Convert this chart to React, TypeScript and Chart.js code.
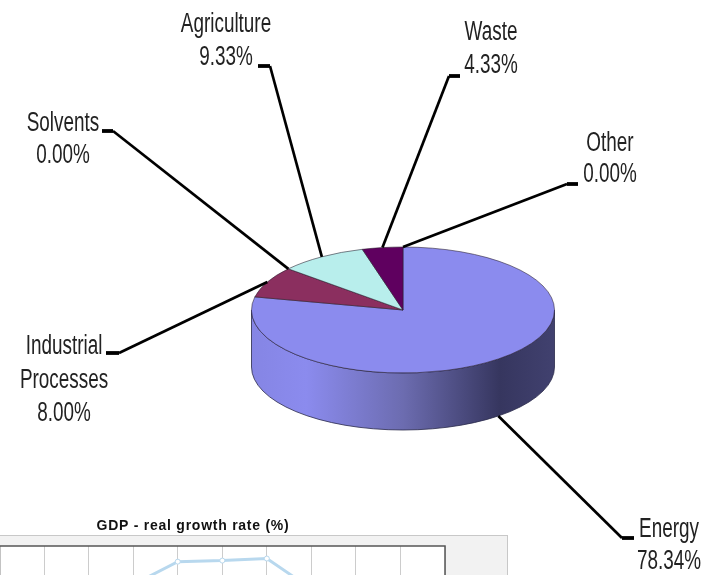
import React, { useEffect, useRef } from "react";
import { Chart, registerables } from "chart.js";

Chart.register(...registerables);

// ---------- Pie data ----------
const categories = ["Energy", "Industrial Processes", "Solvents", "Agriculture", "Waste", "Other"];
const shares = [78.34, 8.0, 0.0, 9.33, 4.33, 0.0];
const sliceColors = ["#8B8BEE", "#8B2F5F", "#8B2F5F", "#B8EEEC", "#5F005F", "#FFFFCC"];
const labelLines = [["Energy"], ["Industrial", "Processes"], ["Solvents"], ["Agriculture"], ["Waste"], ["Other"]];

// ---------- GDP data (only the peak of this chart is inside the picture) ----------
const gdpYears = ["2000", "2001", "2002", "2003", "2004", "2005", "2006", "2007", "2008", "2009", "2010"];
const gdpGrowth = [3.2, 2.6, 3.8, 4.64, 6.64, 6.73, 6.91, 4.27, 3.6, 2.4, 3.1];

// ---------- Layout ----------
const PIE = { cx: 403, cy: 310, rx: 151.5, ry: 63, depth: 57 };
const LABEL = { font: 27, scaleX: 0.7, color: "#222222" };
// label centre x, first-line centre y, line gap, tick start x, tick y, elbow x
const labelLayout = [
  { x: 669, y: 530, gap: 32, tickX: 634, tickY: 538, elbowX: 622 },
  { x: 64, y: 347, gap: 33.5, tickX: 106, tickY: 353, elbowX: 119 },
  { x: 63, y: 124, gap: 32, tickX: 102, tickY: 131, elbowX: 113 },
  { x: 226, y: 25, gap: 33, tickX: 258, tickY: 66, elbowX: 270 },
  { x: 491, y: 33, gap: 33, tickX: 460, tickY: 76, elbowX: 449 },
  { x: 610, y: 144, gap: 31, tickX: 578, tickY: 184, elbowX: 567 },
];

const pie3d = {
  id: "pie3d",
  beforeDatasetsDraw(chart: any) {
    const { ctx } = chart;
    const { cx, cy, rx, ry, depth } = PIE;
    const g = ctx.createLinearGradient(cx - rx, 0, cx + rx, 0);
    g.addColorStop(0, "#8585E4");
    g.addColorStop(0.18, "#8B8BEE");
    g.addColorStop(0.5, "#6C6CB0");
    g.addColorStop(0.82, "#36365F");
    g.addColorStop(1, "#41416F");
    ctx.save();
    ctx.beginPath();
    ctx.ellipse(cx, cy, rx, ry, 0, 0, Math.PI);
    ctx.lineTo(cx - rx, cy + depth);
    ctx.ellipse(cx, cy + depth, rx, ry, 0, Math.PI, 0, true);
    ctx.closePath();
    ctx.fillStyle = g;
    ctx.fill();
    ctx.strokeStyle = "#2A2A4A";
    ctx.lineWidth = 0.8;
    ctx.stroke();
    ctx.restore();

    const el = chart.getDatasetMeta(0).data[0];
    ctx.save();
    ctx.translate(cx, cy);
    ctx.scale(rx / el.outerRadius, ry / el.outerRadius);
    ctx.translate(-el.x, -el.y);
  },
  afterDatasetsDraw(chart: any) {
    const { ctx } = chart;
    ctx.restore();
    const { cx, cy, rx, ry, depth } = PIE;
    chart.getDatasetMeta(0).data.forEach((arc: any, i: number) => {
      const a = (arc.startAngle + arc.endAngle) / 2;
      const sin = Math.sin(a);
      const ax = cx + rx * Math.cos(a);
      const ay = cy + ry * sin + (sin > 0.2 ? depth : 0);
      const l = labelLayout[i];
      ctx.save();
      ctx.strokeStyle = "#000";
      ctx.lineJoin = "round";
      ctx.lineWidth = 2.7;
      ctx.beginPath();
      ctx.moveTo(l.elbowX, l.tickY);
      ctx.lineTo(ax, ay);
      ctx.stroke();
      ctx.lineWidth = 3.8;
      ctx.beginPath();
      ctx.moveTo(l.tickX, l.tickY);
      ctx.lineTo(l.elbowX, l.tickY);
      ctx.stroke();
      ctx.restore();

      const lines = [...labelLines[i], shares[i].toFixed(2) + "%"];
      lines.forEach((t, k) => {
        ctx.save();
        ctx.translate(l.x, l.y + k * l.gap);
        ctx.scale(LABEL.scaleX, 1);
        ctx.font = `${LABEL.font}px "Liberation Sans", Arial, sans-serif`;
        ctx.fillStyle = LABEL.color;
        ctx.textAlign = "center";
        ctx.textBaseline = "middle";
        ctx.fillText(t, 0, 0);
        ctx.restore();
      });
    });
  },
};

const PANEL_TOP = 19;
const gdpFrame = {
  id: "gdpFrame",
  beforeDraw(chart: any) {
    const { ctx, width, height, chartArea: a } = chart;
    ctx.save();
    ctx.fillStyle = "#F2F2F2";
    ctx.fillRect(0, PANEL_TOP, width, height - PANEL_TOP);
    ctx.strokeStyle = "#C8C8C8";
    ctx.lineWidth = 1;
    ctx.strokeRect(0.5, PANEL_TOP + 0.5, width - 1, height);
    ctx.fillStyle = "#FFFFFF";
    ctx.fillRect(a.left, a.top, a.width, a.height);
    ctx.restore();
    (ctx as any).letterSpacing = "0.75px";
  },
  afterDraw(chart: any) {
    const { ctx, chartArea: a } = chart;
    ctx.save();
    ctx.strokeStyle = "#555555";
    ctx.lineWidth = 1.5;
    ctx.strokeRect(a.left, a.top, a.width, a.height);
    ctx.restore();
  },
};

export default function App() {
  const pieRef = useRef<HTMLCanvasElement>(null);
  const gdpRef = useRef<HTMLCanvasElement>(null);

  useEffect(() => {
    document.body.style.margin = "0";
    const pie = new Chart(pieRef.current!, {
      type: "pie",
      data: {
        labels: categories,
        datasets: [
          {
            data: shares,
            backgroundColor: sliceColors,
            borderColor: "#2A2030",
            borderWidth: 0.8,
          },
        ],
      },
      options: {
        animation: false,
        responsive: false,
        layout: { padding: { left: 251, right: 155, top: 0, bottom: 272 } },
        plugins: { legend: { display: false }, tooltip: { enabled: false } },
      },
      plugins: [pie3d],
    } as any);

    const gdp = new Chart(gdpRef.current!, {
      type: "line",
      data: {
        labels: gdpYears,
        datasets: [
          {
            data: gdpGrowth,
            borderColor: "#B8D8EE",
            borderWidth: 3,
            tension: 0,
            pointRadius: 2.5,
            pointBorderWidth: 1,
            pointBackgroundColor: "#FFFFFF",
            pointBorderColor: "#B8D8EE",
          },
        ],
      },
      options: {
        animation: false,
        responsive: false,
        layout: { padding: { left: 0, right: 63, top: 0, bottom: 10 } },
        plugins: {
          legend: { display: false },
          tooltip: { enabled: false },
          title: {
            display: true,
            text: "GDP - real growth rate (%)",
            color: "#111111",
            font: { family: '"Liberation Sans", Arial, sans-serif', size: 14, weight: "bold" },
            padding: { top: 2, bottom: 11.2 },
          },
        },
        scales: {
          x: {
            offset: false,
            grid: { color: "#CCCCCC", lineWidth: 1 },
            border: { display: false },
            ticks: { display: false },
          },
          y: {
            min: 0,
            max: 8,
            grid: { display: false },
            border: { display: false },
            ticks: { display: false },
            afterFit(scale: any) {
              scale.width = 58.6;
            },
          },
        },
      },
      plugins: [gdpFrame],
    } as any);

    return () => {
      pie.destroy();
      gdp.destroy();
    };
  }, []);

  return (
    <div style={{ position: "relative", width: 710, height: 575, overflow: "hidden", background: "#fff" }}>
      <canvas
        ref={pieRef}
        width={710}
        height={575}
        style={{ position: "absolute", left: 0, top: 0, filter: "blur(0.5px)" }}
      />
      <canvas
        ref={gdpRef}
        width={567}
        height={140}
        style={{ position: "absolute", left: -59, top: 516, filter: "blur(0.5px)" }}
      />
    </div>
  );
}
